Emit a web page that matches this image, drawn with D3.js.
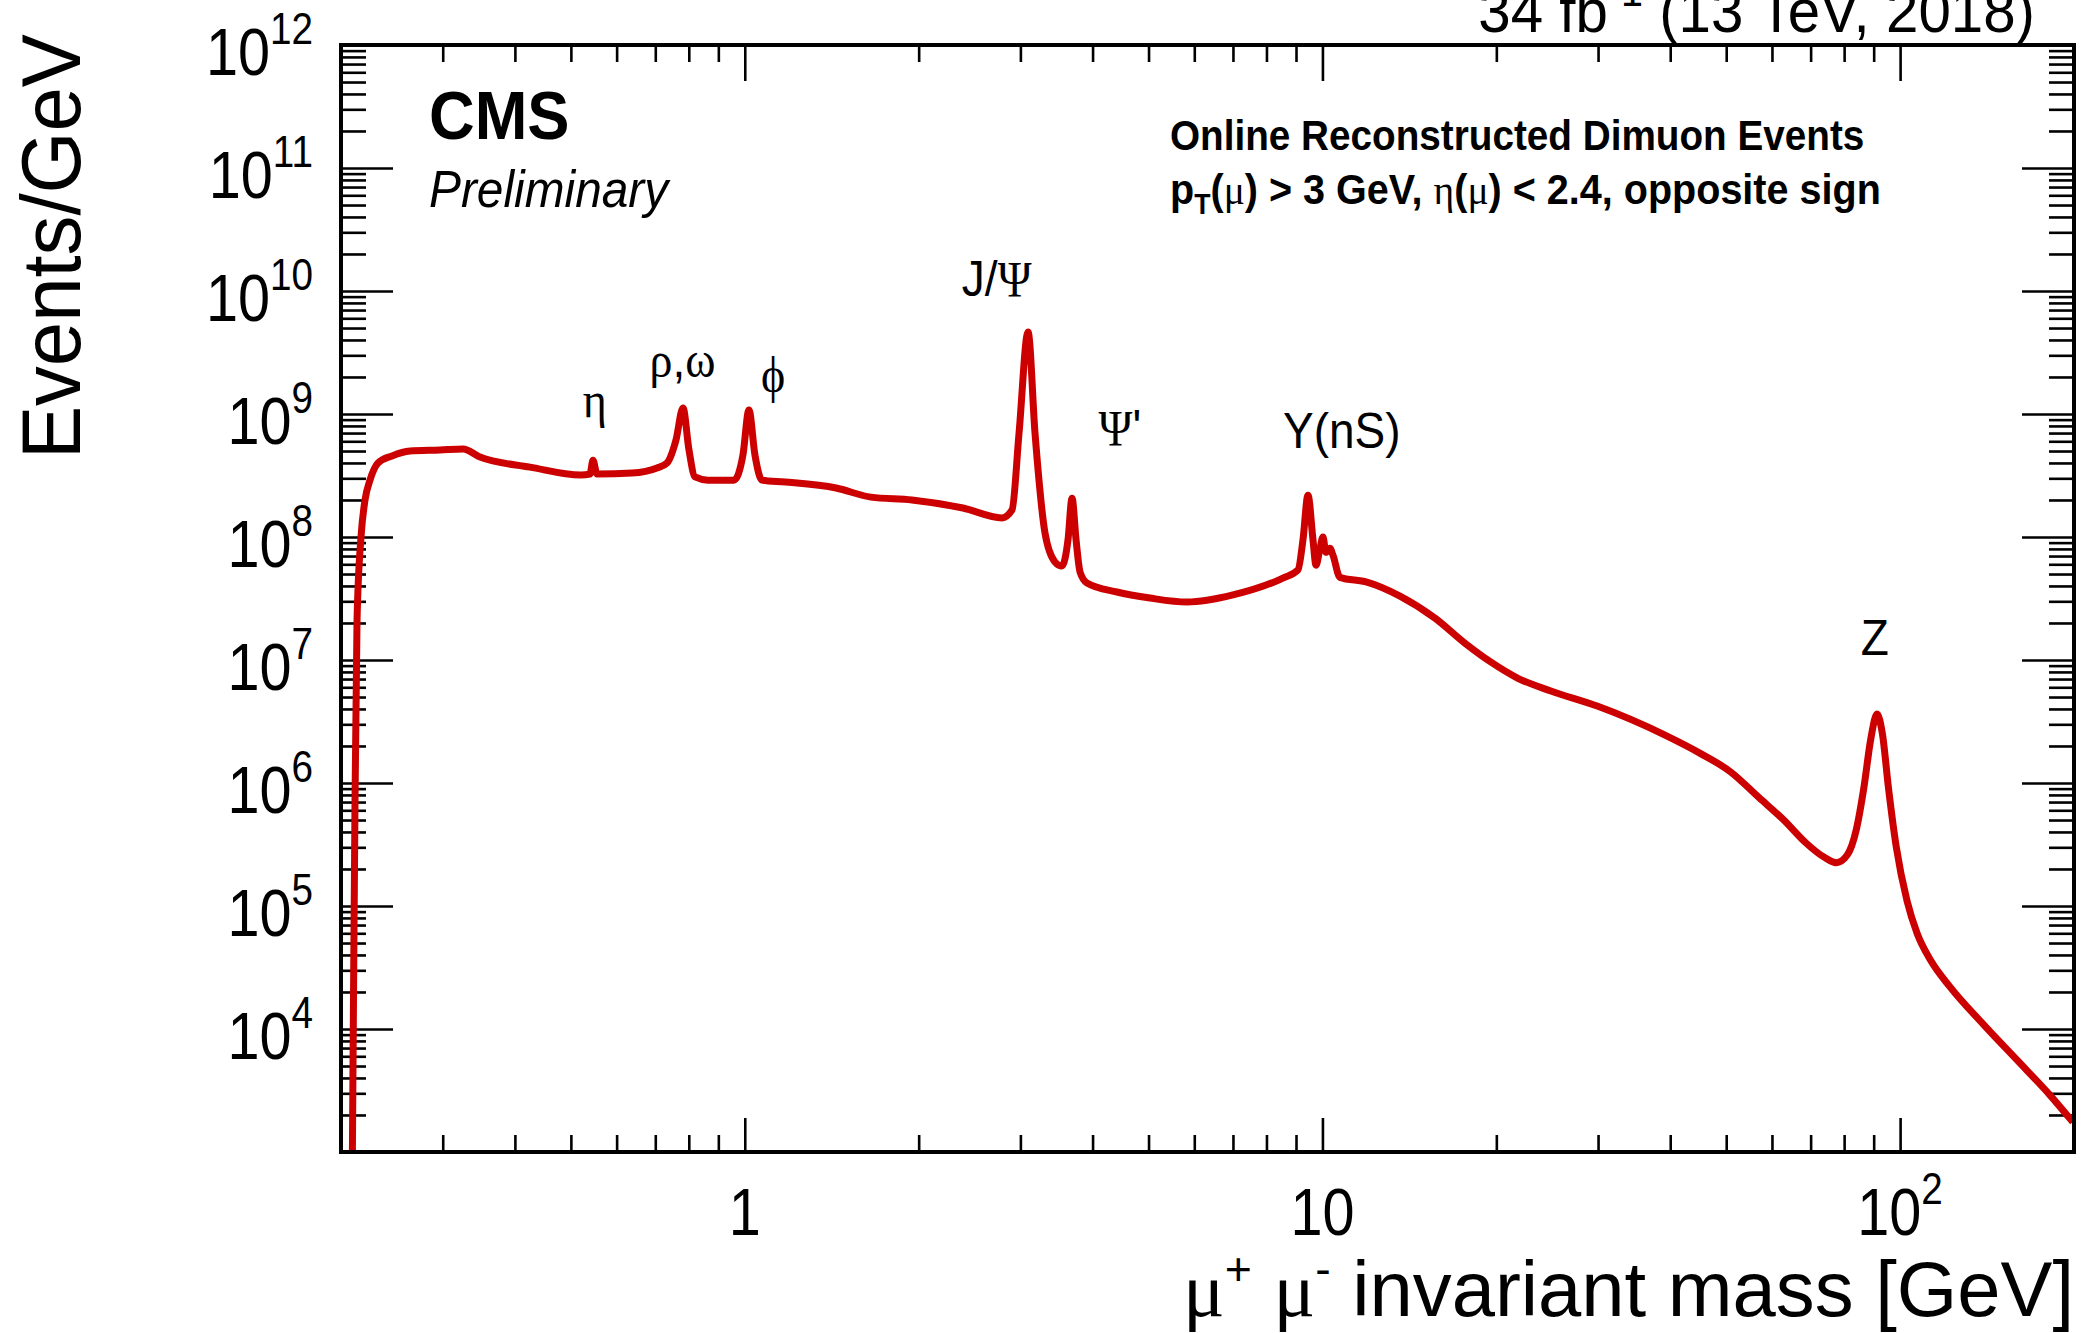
<!DOCTYPE html>
<html>
<head>
<meta charset="utf-8">
<script src="https://cdn.jsdelivr.net/npm/d3@7"></script>
<style>
  html, body { margin: 0; padding: 0; background: #fff; }
  text { font-family: "Liberation Sans", Arial, Helvetica, sans-serif; fill: #000; }
  .greek { font-family: "Liberation Serif", "DejaVu Serif", serif; font-weight: normal; }
</style>
</head>
<body>
<div id="chart"></div>
<script>
// Dimuon invariant mass spectrum
const massGeV = [0.2090, 0.2102, 0.2115, 0.2132, 0.2166, 0.2201, 0.2245, 0.2318, 0.2451, 0.2633,
  0.2967, 0.3252, 0.3481, 0.4249, 0.5205, 0.5395, 0.5461, 0.5548, 0.6379, 0.7047,
  0.7334, 0.7602, 0.7817, 0.8006, 0.8201, 0.8637, 0.9577, 0.9928, 1.0167, 1.0413,
  1.0709, 1.174, 1.439, 1.654, 1.947, 2.386, 2.788, 2.902, 2.984, 3.093,
  3.180, 3.309, 3.443, 3.541, 3.627, 3.686, 3.745, 3.805, 3.912, 4.409,
  5.030, 5.828, 7.000, 8.542, 9.072, 9.254, 9.440, 9.630, 9.746, 9.904,
  10.02, 10.14, 10.30, 10.43, 10.72, 11.94, 13.62, 15.66, 17.65, 19.58,
  21.80, 24.86, 29.98, 39.18, 45.0, 50.9, 57.0, 62.9, 68.5, 73.8,
  77.5, 81.0, 84.0, 86.5, 89.0, 91.2, 93.2, 95.5, 98.5, 102.8,
  107.0, 113.0, 122.0, 139.1, 159.3, 181.7, 199.1];

const eventsPerGeV = [4e2, 1.7e4, 7.3e5, 2.1e7, 1.0e8, 2.0e8, 2.9e8, 4.0e8, 4.56e8, 5.0e8,
  5.1e8, 5.2e8, 4.47e8, 3.7e8, 3.19e8, 3.25e8, 4.2e8, 3.25e8, 3.31e8, 3.64e8,
  4.0e8, 6.15e8, 1.12e9, 5.1e8, 3.08e8, 2.9e8, 2.9e8, 4.65e8, 1.08e9, 4.65e8,
  2.9e8, 2.8e8, 2.5e8, 2.11e8, 2.0e8, 1.72e8, 1.43e8, 1.66e8, 7.0e8, 4.64e9,
  7.0e8, 1.08e8, 6.27e7, 5.8e7, 9.5e7, 2.07e8, 9.5e7, 5.2e7, 4.23e7, 3.57e7,
  3.19e7, 2.96e7, 3.38e7, 4.64e7, 5.4e7, 9.5e7, 2.19e8, 9.5e7, 5.9e7, 8.1e7,
  1.0e8, 7.5e7, 8.1e7, 7.1e7, 4.7e7, 4.3e7, 3.31e7, 2.19e7, 1.37e7, 9.6e6,
  7.1e6, 5.6e6, 4.2e6, 2.45e6, 1.75e6, 1.23e6, 7.6e5, 5.0e5, 3.3e5, 2.5e5,
  2.25e5, 2.6e5, 4.2e5, 9.0e5, 2.3e6, 3.64e6, 2.5e6, 9.0e5, 3.0e5, 1.1e5,
  6.0e4, 3.6e4, 2.2e4, 1.1e4, 5.6e3, 2.9e3, 1.75e3];

// axis ticks and labels
const xMajorTicks = [1, 10, 100];
const xTickBase = ["1", "10", "10"];
const xTickExp = ["", "", "2"];
const yLabelExps = [4, 5, 6, 7, 8, 9, 10, 11, 12];

// resonance labels (anchored in data coordinates)
const peakNames = ["η", "ρ,ω", "ϕ", "J/Ψ", "Ψ'", "Υ(nS)", "Z"];
const peakLabelMass = [0.55, 0.78, 1.12, 2.73, 4.46, 10.8, 90.4];
const peakLabelLevel = [9.5e8, 2.0e9, 1.5e9, 9.1e9, 5.6e8, 5.3e8, 1.1e7];

const W = 2088, H = 1333;
const frame = { left: 341, right: 2074, top: 45, bottom: 1152 };

const svg = d3.select("#chart").append("svg")
    .attr("width", W)
    .attr("height", H);

const x = d3.scaleLog().domain([0.2, 200]).range([frame.left, frame.right]);
const y = d3.scaleLog().domain([1e3, 1e12]).range([frame.bottom, frame.top]);

// minor ticks 2..9 in each decade
function minorTicks(lo, hi) {
    const out = [];
    for (let e = Math.floor(Math.log10(lo)); e <= Math.ceil(Math.log10(hi)); e++) {
        for (let k = 1; k <= 9; k++) {
            const v = k * Math.pow(10, e);
            if (v > lo * 1.0001 && v < hi * 0.9999) out.push(v);
        }
    }
    return out;
}
const xMinor = minorTicks(0.2, 200).filter(v => !xMajorTicks.includes(v));
const yMajor = d3.range(3, 13).map(e => Math.pow(10, e));
const yMinor = minorTicks(1e3, 1e12).filter(v => !yMajor.includes(v));

function drawTicks(axis, tr) {
    const g = svg.append("g").attr("transform", tr).call(axis);
    g.select(".domain").remove();
    g.selectAll(".tick line").attr("stroke", "#000").attr("stroke-width", 2.6);
    g.selectAll(".tick text").remove();
}

// bottom + top
drawTicks(d3.axisBottom(x).tickValues(xMajorTicks).tickSize(-34), `translate(0,${frame.bottom})`);
drawTicks(d3.axisBottom(x).tickValues(xMinor).tickSize(-17), `translate(0,${frame.bottom})`);
drawTicks(d3.axisTop(x).tickValues(xMajorTicks).tickSize(-36), `translate(0,${frame.top})`);
drawTicks(d3.axisTop(x).tickValues(xMinor).tickSize(-17), `translate(0,${frame.top})`);
// left + right
drawTicks(d3.axisLeft(y).tickValues(yMajor).tickSize(-52), `translate(${frame.left},0)`);
drawTicks(d3.axisLeft(y).tickValues(yMinor).tickSize(-25), `translate(${frame.left},0)`);
drawTicks(d3.axisRight(y).tickValues(yMajor).tickSize(-52), `translate(${frame.right},0)`);
drawTicks(d3.axisRight(y).tickValues(yMinor).tickSize(-25), `translate(${frame.right},0)`);

// the spectrum
svg.append("clipPath").attr("id", "plotArea")
  .append("rect")
    .attr("x", frame.left).attr("y", frame.top)
    .attr("width", frame.right - frame.left)
    .attr("height", frame.bottom - frame.top);

const points = d3.zip(massGeV, eventsPerGeV);
const line = d3.line()
    .x(d => x(d[0]))
    .y(d => y(d[1]))
    .curve(d3.curveMonotoneX);

svg.append("path")
    .datum(points)
    .attr("clip-path", "url(#plotArea)")
    .attr("d", line)
    .attr("fill", "none")
    .attr("stroke", "#cc0000")
    .attr("stroke-width", 7)
    .attr("stroke-linejoin", "round");

// frame
svg.append("rect")
    .attr("x", frame.left).attr("y", frame.top)
    .attr("width", frame.right - frame.left)
    .attr("height", frame.bottom - frame.top)
    .attr("fill", "none")
    .attr("stroke", "#000")
    .attr("stroke-width", 4);

// text squeezed a bit sideways, like the picture's font
function squeezed(px, py, sx, size) {
    return svg.append("text")
        .attr("transform", `translate(${px},${py}) scale(${sx},1)`)
        .style("font-size", size + "px");
}

// 10^n style label
function powerLabel(px, py, base, exp, anchor) {
    const t = squeezed(px, py, 0.86, 67).attr("text-anchor", anchor);
    t.append("tspan").text(base);
    if (exp) t.append("tspan").attr("dy", -31).style("font-size", "45px").text(exp);
}

xMajorTicks.forEach((v, i) => powerLabel(x(v), 1235, xTickBase[i], xTickExp[i], "middle"));
yLabelExps.forEach(e => powerLabel(313, y(Math.pow(10, e)) + 30, "10", String(e), "end"));

// axis titles
const xt = squeezed(frame.right, 1316, 1.01, 77).attr("text-anchor", "end");
xt.append("tspan").attr("class", "greek").text("μ");
xt.append("tspan").attr("dy", -31).style("font-size", "46px").text("+");
xt.append("tspan").attr("dy", 31).text(" ");
xt.append("tspan").attr("class", "greek").text("μ");
xt.append("tspan").attr("dy", -31).style("font-size", "46px").text("-");
xt.append("tspan").attr("dy", 31).text(" invariant mass [GeV]");

svg.append("text")
    .attr("transform", "translate(80,34) rotate(-90) scale(0.96,1)")
    .attr("text-anchor", "end")
    .style("font-size", "83px")
    .text("Events/GeV");

// CMS header
squeezed(429, 139, 0.93, 68).style("font-weight", "bold").text("CMS");
squeezed(429, 207, 0.92, 52).style("font-style", "italic").text("Preliminary");

const lumi = squeezed(2035, 32, 0.94, 62).attr("text-anchor", "end");
lumi.append("tspan").text("34 fb");
lumi.append("tspan").attr("dy", -26).style("font-size", "42px").text("-1");
lumi.append("tspan").attr("dy", 26).text(" (13 TeV, 2018)");

// selection text
squeezed(1170, 150, 0.9, 43).style("font-weight", "bold")
    .text("Online Reconstructed Dimuon Events");

const sel = squeezed(1170, 204, 0.92, 43).style("font-weight", "bold");
sel.append("tspan").text("p");
sel.append("tspan").attr("dy", 10).style("font-size", "29px").text("T");
sel.append("tspan").attr("dy", -10).text("(");
sel.append("tspan").attr("class", "greek").text("μ");
sel.append("tspan").text(") > 3 GeV,  ");
sel.append("tspan").attr("class", "greek").text("η");
sel.append("tspan").text("(");
sel.append("tspan").attr("class", "greek").text("μ");
sel.append("tspan").text(") < 2.4, opposite sign");

// resonance labels: greek letters in the symbol-like serif face
peakNames.forEach((name, i) => {
    const t = squeezed(x(peakLabelMass[i]), y(peakLabelLevel[i]), 0.92, 50)
        .attr("text-anchor", "middle");
    Array.from(name).forEach(ch => {
        const isGreek = /[\u0370-\u03FF]/.test(ch) && ch !== "Υ";
        t.append("tspan").attr("class", isGreek ? "greek" : null).text(ch);
    });
});
</script>
</body>
</html>
